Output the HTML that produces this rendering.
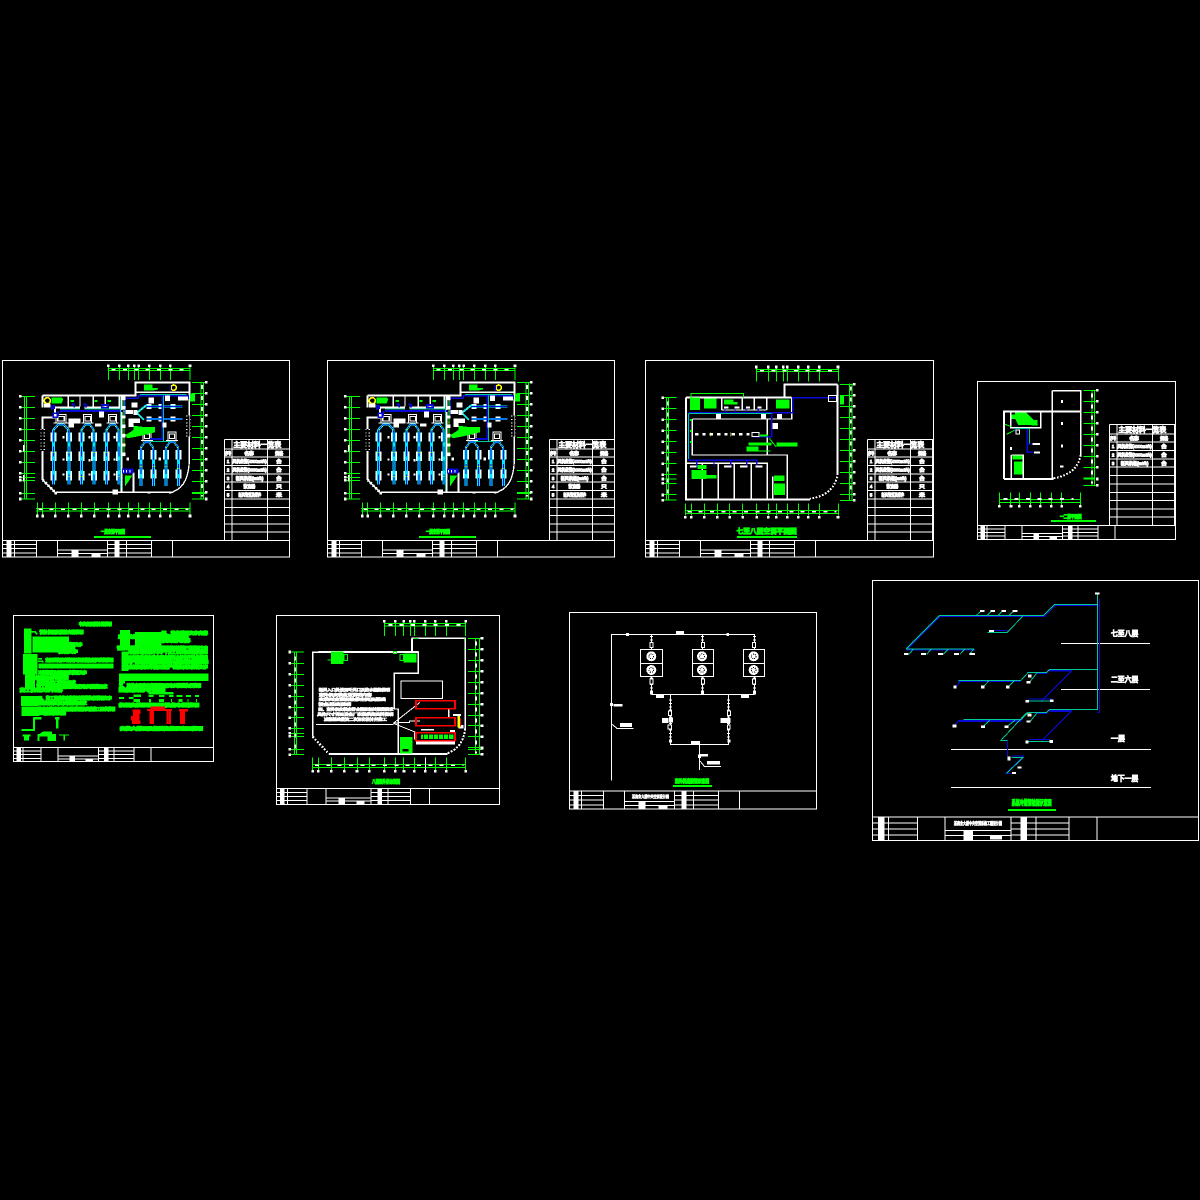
<!DOCTYPE html>
<html><head><meta charset="utf-8"><style>
html,body{margin:0;padding:0;background:#000}
svg{display:block;shape-rendering:crispEdges}
text{font-family:"Liberation Sans","Noto Sans CJK SC",sans-serif}
.f{fill:none;stroke:#fff;stroke-width:3}
.t{fill:none;stroke:#fff;stroke-width:4}
.k{fill:none;stroke:#fff;stroke-width:6}
.g{fill:none;stroke:#0f0;stroke-width:3}
.b{fill:none;stroke:#0a0ad8;stroke-width:3}
.c{fill:none;stroke:#00c896;stroke-width:3}
.y{fill:none;stroke:#ff0;stroke-width:2}
.s{fill:none;stroke:#fff;stroke-width:8;stroke-linecap:square}
.d{fill:none;stroke:#fff;stroke-width:5;stroke-dasharray:12 22}
.r{fill:none;stroke:#f00;stroke-width:5}
.tw{fill:#fff;stroke:#fff;stroke-width:3;font-size:13px}
.tg{fill:#0f0;stroke:#0f0;stroke-width:3.5;font-size:15px}
.tn{fill:#0f0;stroke:#0f0;stroke-width:4;font-size:12px}
.n{fill:none;stroke:#fff;stroke-width:1;vector-effect:non-scaling-stroke}
</style></head><body>
<svg width="1200" height="1200" viewBox="0 0 1200 1200">
<defs>
<g id="tb">
<path class="n" d="M12 0V17M34 0V17M55 0V17M105 0V17M124 0V17M149 0V17M170 0V17M0 4.3H34M0 8.6H34M0 13H34M105 4.3H149M105 8.6H149M105 13H149M55 10H105M55 13.5H105M70 10V17"/>
<path d="M4 0h5v17h-5zM112 0h5v17h-5zM69 10h7v7h-7zM89 13.5h9v3h-9z" fill="#fff"/>
</g>
<g id="tbl">
<path class="f" d="M0 0H195V303M0 0V303M0 28H195M0 53H195M0 78H195M0 103H195M0 128H195M0 153H195M0 178H195M0 204H195M0 228H195M0 253H195M0 278H195M22 0V303M129 0V303"/>
<text class="tw" x="27" y="23" style="font-size:20px;stroke-width:3" textLength="143" lengthAdjust="spacingAndGlyphs">主要材料一览表</text>
<text class="tw" x="2" y="46" textLength="18" lengthAdjust="spacingAndGlyphs">序号</text>
<text class="tw" x="60" y="46" textLength="28" lengthAdjust="spacingAndGlyphs">名称</text>
<text class="tw" x="152" y="46" textLength="24" lengthAdjust="spacingAndGlyphs">规格</text>
</g>
<g id="arch">
<path d="M-18 30V22L-6 6H6L18 22V30" fill="none" stroke="#00e8ff" stroke-width="6"/>
<path d="M-18 30V22L-6 6H6L18 22V30" fill="none" stroke="#0a0ad8" stroke-width="2"/>
<path d="M-18 24L-6 8M18 24L6 8" fill="none" stroke="#ff0" stroke-width="2" stroke-dasharray="4 8"/>
<path d="M-12 4V-24H12V4M-18 2H18" class="f"/>
<path d="M-8 -18h16v14h-16z" fill="#000" stroke="#fff" stroke-width="3"/>
</g>
<g id="plan">
<rect class="f" x="8" y="16" width="860" height="590"/>
<path class="f" d="M8 556H868"/>
<path class="g" d="M325 40H570M325 47H570M325 30V75M358 30V75M385 30V75M403 30V75M416 30V75M448 30V75M481 30V75M511 30V75M570 30V75"/>
<path class="s" d="M325 32h.1M358 32h.1M385 32h.1M403 32h.1M416 32h.1M448 32h.1M481 32h.1M511 32h.1M570 32h.1"/>
<path class="d" d="M335 44H560"/>
<path class="g" d="M603 82V432M610 82V432M576 82H620M576 115H620M576 148H620M576 181H620M576 214H620M576 247H620M576 280H620M576 313H620M576 346H620M576 379H620M576 412H620M576 415H620M576 432H620"/>
<path class="s" d="M619 82h.1M619 115h.1M619 148h.1M619 181h.1M619 214h.1M619 247h.1M619 280h.1M619 313h.1M619 346h.1M619 379h.1M619 412h.1M619 432h.1"/>
<path d="M606 90V425" fill="none" stroke="#fff" stroke-width="5" stroke-dasharray="12 21"/>
<path class="g" d="M73 124V432M80 124V432M60 124H105M60 157H105M60 190H105M60 223H105M60 256H105M60 289H105M60 322H105M60 355H105M60 367H105M60 376H105M60 415H105M60 432H105"/>
<path class="s" d="M61 124h.1M61 157h.1M61 190h.1M61 223h.1M61 256h.1M61 289h.1M61 322h.1M61 355h.1M61 367h.1M61 376h.1M61 415h.1M61 432h.1"/>
<path d="M71 270V290M71 360V380" fill="none" stroke="#fff" stroke-width="5"/>
<path class="g" d="M108 460H570M108 468H570M112 442V478M128 442V478M166 442V478M205 442V478M244 442V478M283 442V478M325 442V478M358 442V478M385 442V478M415 442V478M448 442V478M481 442V478M511 442V478M570 442V478"/>
<path class="s" d="M112 483h.1M128 483h.1M166 483h.1M205 483h.1M244 483h.1M283 483h.1M325 483h.1M358 483h.1M385 483h.1M415 483h.1M448 483h.1M481 483h.1M511 483h.1M570 483h.1"/>
<path class="d" d="M115 463H565"/>
<path class="k" d="M128 375V187H165M128 122H405M128 122V158M165 158H360M165 158V187M407 125V83H568V120M400 352V410M365 120V410"/>
<path class="t" d="M568 120V310Q568 392 520 410M168 412H520M128 375L165 412M205 122V158M240 122V158M280 122V158M316 122V158M358 122V158M407 112H568"/>
<path d="M128 375L165 412" fill="none" stroke="#fff" stroke-width="8" stroke-dasharray="5 6"/>
<path d="M128 222V288M565 182V245" fill="none" stroke="#fff" stroke-width="14" stroke-dasharray="3 7"/>
<path d="M128 222V288M565 182V245" fill="none" stroke="#000" stroke-width="6"/>
<path d="M160 232V388M207 232V388M245 232V388M282 232V388M320 232V388M357 232V388M423 285V393M460 285V393M498 285V393M535 285V393" fill="none" stroke="#fff" stroke-width="18" stroke-dasharray="28 30"/>
<path d="M160 232V388M207 232V388M245 232V388M282 232V388M320 232V388M357 232V388M423 285V393M460 285V393M498 285V393M535 285V393" fill="none" stroke="#00e8ff" stroke-width="9"/>
<path d="M160 232V388M207 232V388M245 232V388M282 232V388M320 232V388M357 232V388M423 285V393M460 285V393M498 285V393M535 285V393" fill="none" stroke="#0a0ad8" stroke-width="3" stroke-dasharray="30 12"/>
<path d="M155 292h10M202 292h10M202 365h10M278 292h10M240 365h10M315 292h10M352 365h10M418 335h10M456 335h10M493 335h10M530 340h10" class="y"/>
<use href="#arch" transform="translate(183 202) scale(1.25 1)"/>
<use href="#arch" transform="translate(263 202)"/>
<use href="#arch" transform="translate(338 202)"/>
<use href="#arch" transform="translate(441 255)"/>
<use href="#arch" transform="translate(516 255)"/>
<path d="M440 155H548M440 192H548" fill="none" stroke="#fff" stroke-width="15" stroke-dasharray="14 22"/>
<path d="M440 155H548M440 192H548" fill="none" stroke="#00e8ff" stroke-width="6"/>
<path d="M440 155H548M440 192H548" class="b"/>
<path d="M405 178L440 150M405 168L432 195" fill="none" stroke="#00e8ff" stroke-width="6"/>
<path d="M405 178L440 150M405 168L432 195" fill="none" stroke="#ff0" stroke-width="2" stroke-dasharray="4 8"/>
<path d="M180 168H368M372 130H415V122H565V132M487 122V252H450M175 168V185M155 150V165M375 130V180" fill="none" stroke="#0a0ad8" stroke-width="5"/>
<path class="c" d="M180 162H362V130M362 162V405M450 260H515M490 122V260M420 118H560"/>
<path d="M372 125V305" fill="none" stroke="#0f0" stroke-width="3"/>
<path d="M372 125V305" fill="none" stroke="#fff" stroke-width="8" stroke-dasharray="10 18"/>
<path d="M372 135V300" fill="none" stroke="#ff0" stroke-width="3" stroke-dasharray="3 30"/>
<path d="M215 150q4-6 8 0v8M250 150q4-6 8 0v8M305 150h20v8h-20zM155 152h8v8h-8zM160 175h12v12h-12z" fill="none" stroke="#0a0ad8" stroke-width="5"/>
<path d="M366 340H400V355H366z" fill="#0a0ad8"/>
<path d="M370 345V352M380 345V352M390 345V352" fill="none" stroke="#fff" stroke-width="3"/>
<path d="M375 362H397L375 395Z" fill="#0f0"/>
<path d="M400 212L432 216H465V232L440 238L410 245L382 250L376 240L390 232L400 225Z" fill="#0f0"/>
<path d="M432 88H458V99H474V103L458 107H432ZM155 127H185L190 133L185 145H155Z" fill="#0f0"/>
<path d="M212 135h10v6h-10zM283 135h9v6h-9zM323 135h10v6h-10zM570 115h15v25h-15z" fill="#0f0"/>
<circle cx="142" cy="137" r="9" fill="none" stroke="#ff0" stroke-width="5"/><rect x="132" y="146" width="20" height="12" fill="#fff"/>
<circle cx="521" cy="98" r="8" fill="none" stroke="#ff0" stroke-width="5"/><rect x="508" y="90" width="5" height="18" fill="#0a0ad8"/>
<path d="M205 190h36v15h-19v13h-17zM285 205h20v9h-20zM297 170h15v18h-15zM445 127h17v18h-17zM495 122h15v16h-15zM488 202h12v16h-12zM385 190h35v14h-20v12h-15zM534 124h30v12h-30zM395 142h18v15h-18zM400 165h12v15h-12zM377 165h22v12h-22zM187 243h7v7h-7zM187 310h7v7h-7zM187 355h7v7h-7zM265 243h7v7h-7zM265 312h7v7h-7zM265 355h7v7h-7zM340 243h7v7h-7zM340 310h7v7h-7zM340 355h7v7h-7zM380 308h7v8h-7zM476 308h7v8h-7zM337 404h17v14h-17zM443 409h8v7h-8zM507 409h8v7h-8zM163 411h8v7h-8z" fill="#fff"/>
<path d="M240 155h14v10h-14z" fill="#000"/>
<text class="tg" x="303" y="536" textLength="72" lengthAdjust="spacingAndGlyphs">一层空调平面图</text>
<rect x="282" y="543" width="171" height="6" fill="#0f0"/>
</g>
<g id="rows">
<text class="tw" x="7" y="71">1</text><text class="tw" x="24" y="71" textLength="103" lengthAdjust="spacingAndGlyphs">风机盘管(4000m3/h)</text><text class="tw" x="155" y="71" textLength="17" lengthAdjust="spacingAndGlyphs">台</text>
<text class="tw" x="7" y="96">2</text><text class="tw" x="24" y="96" textLength="103" lengthAdjust="spacingAndGlyphs">风机盘管(3000m3/h)</text><text class="tw" x="155" y="96" textLength="17" lengthAdjust="spacingAndGlyphs">台</text>
<text class="tw" x="7" y="121">3</text><text class="tw" x="34" y="121" textLength="83" lengthAdjust="spacingAndGlyphs">新风机组(m3/h)</text><text class="tw" x="155" y="121" textLength="17" lengthAdjust="spacingAndGlyphs">台</text>
</g>
<g id="rows2">
<text class="tw" x="7" y="146">4</text><text class="tw" x="57" y="146" textLength="35" lengthAdjust="spacingAndGlyphs">散流器</text><text class="tw" x="155" y="146" textLength="17" lengthAdjust="spacingAndGlyphs">只</text><text class="tw" x="7" y="171">5</text><text class="tw" x="42" y="171" textLength="68" lengthAdjust="spacingAndGlyphs">新风管道及附件</text><text class="tw" x="155" y="171" textLength="17" lengthAdjust="spacingAndGlyphs">米</text>
</g>
</defs>
<rect width="1200" height="1200" fill="#000"/>

<!-- sheets 1, 2 -->
<g transform="translate(0 355) scale(.3333)"><use href="#plan"/></g>
<g transform="translate(325 355) scale(.3333)"><use href="#plan"/></g>
<g transform="translate(224.5 439.5) scale(.3333)"><use href="#tbl"/><use href="#rows"/><use href="#rows2"/></g>
<g transform="translate(549.5 439.5) scale(.3333)"><use href="#tbl"/><use href="#rows"/><use href="#rows2"/></g>
<use href="#tb" transform="translate(2.5 540)"/>
<use href="#tb" transform="translate(327.5 540)"/>

<!-- sheet 3 -->
<g transform="translate(640 355) scale(.3333)">
<rect class="f" x="16" y="16" width="864" height="590"/>
<path class="f" d="M16 556H880"/>
<path class="g" d="M349 43H596M349 50H596M349 32V80M385 32V80M409 32V80M430 32V80M442 32V80M475 32V80M505 32V80M538 32V80M596 32V80"/>
<path class="s" d="M349 36h.1M385 36h.1M409 36h.1M430 36h.1M442 36h.1M475 36h.1M505 36h.1M538 36h.1M594 36h.1"/><path class="d" d="M360 47H590"/>
<path class="g" d="M628 85V435M636 85V435M600 88H645M600 121H645M600 154H645M600 187H645M600 220H645M600 253H645M600 286H645M600 319H645M600 352H645M600 385H645M600 418H645M600 436H645"/>
<path class="s" d="M643 88h.1M643 121h.1M643 154h.1M643 187h.1M643 220h.1M643 253h.1M643 286h.1M643 319h.1M643 352h.1M643 385h.1M643 418h.1M643 436h.1"/>
<path d="M632 95V425" fill="none" stroke="#fff" stroke-width="5" stroke-dasharray="12 21"/>
<path class="g" d="M80 127V435M86 127V435M68 128H110M68 161H110M68 194H110M68 227H110M68 260H110M68 293H110M68 326H110M68 359H110M68 372H110M68 385H110M68 418H110M68 435H110"/>
<path class="s" d="M68 128h.1M68 161h.1M68 194h.1M68 227h.1M68 260h.1M68 293h.1M68 326h.1M68 359h.1M68 372h.1M68 385h.1M68 420h.1M68 436h.1"/>
<path d="M83 140V420" fill="none" stroke="#fff" stroke-width="5" stroke-dasharray="12 21"/>
<path class="g" d="M136 466H596M136 475H596M136 445V482M154 445V482M193 445V482M232 445V482M269 445V482M308 445V482M350 445V482M385 445V482M409 445V482M442 445V482M475 445V482M505 445V482M538 445V482M596 445V482"/>
<path class="s" d="M136 487h.1M154 487h.1M193 487h.1M232 487h.1M269 487h.1M308 487h.1M350 487h.1M385 487h.1M409 487h.1M442 487h.1M475 487h.1M505 487h.1M538 487h.1M594 487h.1"/><path class="d" d="M142 470H590"/>
<path class="k" d="M138 128V433H510M138 128H455M593 88V355M433 128V88H593"/>
<path class="t" d="M157 192H455V128M157 192V300H442V433M382 192V300M140 325H382V433M187 325V433M235 325V433M283 325V433M334 325V433M245 128V165M307 128V165M343 128V165M380 128V165M245 165H380M398 365V433"/>
<path d="M593 355Q585 420 510 431" fill="none" stroke="#fff" stroke-width="6" stroke-dasharray="5 5"/>
<path d="M147 173H458V128H590M147 173V316H350V336M170 316V336M222 316V336M272 316V336M320 316V336M395 173V245H340M255 155V173M285 155V173M318 155V173M355 155V173" fill="none" stroke="#0a0ad8" stroke-width="4"/>
<path class="c" d="M145 176H395M145 176V312"/>
<path d="M192 130h38v30h-38zM150 128h30v37h-30zM252 133h28v8h13v7h-41zM408 133h40v27h-40zM325 262h70v10h-70zM410 262h62v13h-62zM320 275h35v13h-35zM155 345h45v27h-45zM200 360h30v10h-30zM173 330h27v12h-27zM402 385h33v35h-33zM402 362h32v16h-32zM600 122h12v26h-12zM150 192h6v6h-6zM150 225h6v6h-6zM150 258h6v6h-6z" fill="#0f0"/>
<path class="g" d="M153 128V116H310V128M388 250L408 275M320 288H392"/>
<path d="M165 238H335" fill="none" stroke="#fff" stroke-width="8" stroke-dasharray="10 12"/>
<path d="M212 232V244M272 232V244" class="y"/>
<path d="M228 177h15v15h-15zM363 177h15v15h-15zM411 177h15v15h-15zM398 204h16v18h-16zM150 332h20v6h-20zM252 332h22v6h-22zM300 332h22v6h-22zM346 332h22v6h-22zM252 155h14v6h-14zM284 155h14v6h-14zM318 155h12v6h-12zM353 155h12v6h-12z" fill="#fff"/>
<path class="f" d="M336 232h21v13h-21zM565 121H590V140H565Z"/>
<path d="M360 238h24v6h-24z" fill="#0f0"/>
<text class="tg" x="290" y="535" style="font-size:20px;stroke-width:3.5" textLength="180" lengthAdjust="spacingAndGlyphs">七至八层空调平面图</text>
<rect x="291" y="543" width="180" height="6" fill="#0f0"/>
</g>
<g transform="translate(867.5 439.5) scale(.3333)"><use href="#tbl"/><use href="#rows"/><use href="#rows2"/></g>
<use href="#tb" transform="translate(645.5 540)"/>

<!-- sheet 4 -->
<g transform="translate(970 375) scale(.3333)">
<rect class="f" x="22" y="19" width="594" height="474"/>
<path class="f" d="M22 451H616"/>
<path class="k" d="M102 312V110H332M102 312H250"/>
<path class="t" d="M247 47H332V240M247 47V310M122 110V158H212V110M124 240H160V312M124 240V312"/>
<path d="M332 240Q322 298 250 310" fill="none" stroke="#fff" stroke-width="6" stroke-dasharray="5 5"/>
<path d="M135 113H170L205 150H145L135 130Z" fill="#0f0"/>
<path d="M132 260h26v38h-26zM128 242h30v12h-30zM125 118h12v14h-12zM185 135h18v16h-18z" fill="#0f0"/>
<path class="g" d="M105 148L125 155M110 178L135 165"/>
<path d="M172 160V232H190M172 207H188M135 160V170" fill="none" stroke="#0a0ad8" stroke-width="4"/>
<path class="c" d="M135 160H178V205"/>
<path d="M188 204h22v6h-22zM192 229h18v7h-18zM273 75h6v9h-6zM273 141h6v9h-6zM273 208h6v9h-6zM270 272h10v6h-10zM120 216h6v9h-6z" fill="#fff"/>
<path class="f" d="M138 165h10v12h-10z"/>
<path class="g" d="M366 45V332M373 45V332M340 46H385M340 79H385M340 112H385M340 145H385M340 178H385M340 211H385M340 244H385M340 277H385M340 331H385"/>
<rect x="340" y="308" width="35" height="6" fill="#0f0"/>
<path class="s" d="M382 46h.1M382 79h.1M382 112h.1M382 145h.1M382 178h.1M382 211h.1M382 244h.1M382 277h.1M382 312h.1M382 331h.1"/>
<path d="M366 55V325" fill="none" stroke="#fff" stroke-width="5" stroke-dasharray="12 21"/>
<path class="g" d="M88 373H332M88 382H332M88 352V390M121 352V390M148 352V390M181 352V390M211 352V390M244 352V390M274 352V390M331 352V390"/>
<path class="s" d="M88 394h.1M123 394h.1M148 394h.1M181 394h.1M211 394h.1M244 394h.1M275 394h.1M331 394h.1"/><path class="d" d="M100 372H310"/>
<text class="tg" x="270" y="431" textLength="65" lengthAdjust="spacingAndGlyphs">一二层平面图</text>
<rect x="243" y="435" width="135" height="6" fill="#0f0"/>
</g>
<g transform="translate(1109.5 424.5) scale(.3333)"><use href="#tbl"/><use href="#rows"/></g>
<use href="#tb" transform="translate(977.5 525.5) scale(.81)"/>

<!-- sheet 5 -->
<g transform="translate(5 610) scale(.3333)">
<rect class="f" x="25" y="16" width="600" height="439"/>
<path class="f" d="M25 412H625"/>
<text class="tn" x="222" y="46" textLength="98" lengthAdjust="spacingAndGlyphs">中央空调设计总说明</text>
<path d="M57 55h23v75h-23zM54 132h44v62h-44zM60 194h30v45h-30zM48 258h52v30h-52zM50 290h50v28h-50z" fill="#0f0"/>
<path d="M82 80h110v48h-110zM100 160h225v16h-225z" fill="#0f0"/>
<text class="tn" x="80" y="71" textLength="155" lengthAdjust="spacingAndGlyphs">一、设计依据及设计内容说明</text>
<text class="tn" x="190" y="108" textLength="42" lengthAdjust="spacingAndGlyphs">说明文字</text>
<text class="tn" x="190" y="116" textLength="20" lengthAdjust="spacingAndGlyphs">说明</text>
<text class="tn" x="160" y="129" textLength="58" lengthAdjust="spacingAndGlyphs">说明文字</text>
<text class="tn" x="100" y="155" textLength="225" lengthAdjust="spacingAndGlyphs">二、空调系统形式采用风机盘管加新风系统说明</text>
<text class="tn" x="100" y="192" textLength="145" lengthAdjust="spacingAndGlyphs">冷媒管道及保温要求说明文字</text>
<text class="tn" x="90" y="207" textLength="100" lengthAdjust="spacingAndGlyphs">保温材料说明</text>
<text class="tn" x="95" y="222" textLength="117" lengthAdjust="spacingAndGlyphs">风管及风口设计要求</text>
<text class="tn" x="95" y="234" textLength="212" lengthAdjust="spacingAndGlyphs">施工安装应符合国家现行有关规范要求</text>
<text class="tn" x="45" y="245" textLength="127" lengthAdjust="spacingAndGlyphs">施工说明文字内容</text>
<text class="tn" x="100" y="268" textLength="220" lengthAdjust="spacingAndGlyphs">三、施工及验收应按相关规范执行说明文字</text>
<text class="tn" x="100" y="284" textLength="145" lengthAdjust="spacingAndGlyphs">系统调试及试运转要求</text>
<text class="tn" x="100" y="301" textLength="230" lengthAdjust="spacingAndGlyphs">设备安装时应设置减振装置及其他施工要求说明</text>
<text class="tn" x="100" y="314" textLength="82" lengthAdjust="spacingAndGlyphs">其他说明</text>
<path d="M87 322V360H50M85 325h25M150 325h14M157 325V355" fill="none" stroke="#0f0" stroke-width="7"/>
<path d="M52 373h25v6h-5v13h-15v-13h-5zM97 372h10l-3-2 12-6h25v8h12v21h-25v-14h-24v14h-7zM162 373h30v4h-12v15h-4v-15h-14z" fill="#0f0"/>
<path d="M345 60h30v50h-30zM390 66h80v42h-80zM350 125h20v58h-20z" fill="#0f0"/>
<text class="tn" x="470" y="74" textLength="138" lengthAdjust="spacingAndGlyphs">四、设备说明文字内容</text>
<text class="tn" x="340" y="84" textLength="210" lengthAdjust="spacingAndGlyphs">主要设备技术要求及安装说明内容</text>
<text class="tn" x="470" y="96" textLength="85" lengthAdjust="spacingAndGlyphs">说明内容</text>
<text class="tn" x="336" y="119" textLength="272" lengthAdjust="spacingAndGlyphs">管道穿越楼板及墙体时应设置套管并封堵严密说明文字</text>
<text class="tn" x="370" y="131" textLength="238" lengthAdjust="spacingAndGlyphs">冷凝水管坡度不小于千分之三并就近排放说明</text>
<text class="tn" x="370" y="147" textLength="238" lengthAdjust="spacingAndGlyphs">空调室外机安装位置应通风良好便于检修说明</text>
<text class="tn" x="370" y="161" textLength="240" lengthAdjust="spacingAndGlyphs">电气配线及控制系统应符合国家有关规范说明</text>
<text class="tn" x="370" y="176" textLength="238" lengthAdjust="spacingAndGlyphs">系统安装完毕后应进行气密性试验说明文字</text>
<path d="M342 190h268v23h-250v7h-18z" fill="#0f0"/>
<text class="tn" x="342" y="231" textLength="246" lengthAdjust="spacingAndGlyphs">五、其他未尽事宜按国家现行有关规范执行说明</text>
<text class="tn" x="342" y="244" textLength="138" lengthAdjust="spacingAndGlyphs">图例及符号说明</text>
<path d="M430 246h75v8h-75zM385 253h23v8h-23zM430 255h15v6h-15zM462 255h16v6h-16zM492 255h13v6h-13zM515 255h17v6h-17zM543 255h15v6h-15zM570 255h12v6h-12zM342 261h15v6h-15zM372 261h13v6h-13zM385 267h20v9h-20zM432 267h6v9h-6zM462 267h15v9h-15zM498 267h3v9h-3zM520 267h12v9h-12zM548 267h3v9h-3zM573 267h3v9h-3z" fill="#0f0"/>
<text class="tn" x="342" y="290" textLength="240" lengthAdjust="spacingAndGlyphs">机组安装示意图及设备布置说明</text>
<path d="M383 298h24v14h-3v20h3v10h-26v-10h-3v-14h6v-14h-1z" fill="#f00"/>
<path d="M426 297H437V290H480V297H501V303H498V342H484V303H447V342H433V303H426Z" fill="#f00"/>
<path d="M491 305V340" fill="none" stroke="#000" stroke-width="2" stroke-dasharray="3 3"/>
<path d="M522 297h27v7h-9v38h-15v-38h-3z" fill="#f00"/>
<text class="tn" x="345" y="360" textLength="248" lengthAdjust="spacingAndGlyphs">安装大样图及管道连接示意图说明</text>
</g>
<use href="#tb" transform="translate(13.5 747.5) scale(.81 .84)"/>

<!-- sheet 6 -->
<g transform="translate(270 610) scale(.3333)">
<rect class="f" x="20" y="16" width="668" height="567"/>
<path class="f" d="M20 535H688"/>
<path class="g" d="M343 40H587M343 48H587M343 30V78M376 30V78M400 30V78M421 30V78M433 30V78M466 30V78M496 30V78M529 30V78M587 30V78"/>
<path class="s" d="M343 34h.1M376 34h.1M401 34h.1M421 34h.1M433 34h.1M466 34h.1M496 34h.1M529 34h.1M587 34h.1"/><path class="d" d="M355 45H580"/>
<path class="g" d="M617 85V435M628 85V435M594 85H637M594 118H637M594 151H637M594 184H637M594 217H637M594 250H637M594 283H637M594 316H637M594 347H637M594 380H637M594 412H637M594 418H637M594 433H637"/>
<path class="s" d="M636 85h.1M636 118h.1M636 151h.1M636 184h.1M636 217h.1M636 250h.1M636 283h.1M636 316h.1M636 347h.1M636 380h.1M636 414h.1M636 433h.1"/>
<path d="M618 95V430" fill="none" stroke="#fff" stroke-width="5" stroke-dasharray="12 21"/>
<path class="g" d="M73 126V435M80 126V435M58 126H102M58 160H102M58 193H102M58 226H102M58 259H102M58 292H102M58 323H102M58 355H102M58 370H102M58 379H102M58 418H102M58 434H102"/>
<path class="s" d="M59 126h.1M59 160h.1M59 193h.1M59 226h.1M59 259h.1M59 292h.1M59 323h.1M59 355h.1M59 370h.1M59 379h.1M59 418h.1M59 434h.1"/>
<path d="M76 140V430" fill="none" stroke="#fff" stroke-width="5" stroke-dasharray="12 21"/>
<path class="g" d="M127 463H587M127 472H587M127 442V480M145 442V480M184 442V480M223 442V480M262 442V480M299 442V480M343 442V480M376 442V480M400 442V480M433 442V480M496 442V480M529 442V480M587 442V480"/>
<path d="M466 442V480" class="f"/>
<path class="s" d="M128 484h.1M145 484h.1M184 484h.1M223 484h.1M261 484h.1M298 484h.1M343 484h.1M376 484h.1M402 484h.1M433 484h.1M466 484h.1M496 484h.1M529 484h.1M587 484h.1"/><path class="d" d="M135 466H580"/>
<path class="t" d="M128 380V127H445V190H373V297H385V430M177 432H533M586 355V85H425"/>
<path class="k" d="M145 126H445M426 85V127M177 432H533"/>
<path d="M128 380L177 432" fill="none" stroke="#fff" stroke-width="7" stroke-dasharray="5 5"/>
<path d="M533 430Q582 410 585 355" fill="none" stroke="#fff" stroke-width="6" stroke-dasharray="6 4"/>
<path class="f" d="M138 343H370M370 340L450 277M370 340L395 337H418V333H450M370 340L410 356L440 368"/>
<rect class="f" x="393" y="213" width="125" height="53"/>
<path d="M438 392h117v11h-117zM453 357h39v5h-39zM540 360h15v7h-15zM432 368h8v20h-8zM534 295h5v30h-5zM549 312h24v6h-24zM565 345h15v10h-15z" fill="#fff"/>
<path d="M453 373h98v14h-98z" fill="#0f0"/>
<path d="M461 373V387M475 373V387M490 373V387M505 373V387M520 373V387M535 373V387" fill="none" stroke="#000" stroke-width="3"/>
<path class="r" d="M438 272H555V296H438ZM438 323H555V347H438ZM438 368H555V392H438Z"/>
<rect x="563" y="318" width="7" height="34" fill="#ff0"/><rect x="570" y="325" width="3" height="24" fill="#f00"/>
<path d="M390 381h38v49h-38zM183 125h38v37h-38zM400 130h40v28h-40z" fill="#0f0"/>
<path class="g" d="M222 133h11v19h-11zM173 150h12M390 133h10v19h-10zM370 124h10v6h-10zM430 85h15M583 85v8M583 115v5"/>
<path d="M398 417h18v8h-18z" fill="#000"/>
<text class="tw" x="147" y="243" textLength="213" lengthAdjust="spacingAndGlyphs" style="font-size:10px;stroke-width:2.5">新风入口处设百叶风口及防水措施说明</text>
<text class="tw" x="147" y="258" textLength="158" lengthAdjust="spacingAndGlyphs" style="font-size:10px;stroke-width:2.5">室外机安装位置说明内容</text>
<text class="tw" x="147" y="272" textLength="200" lengthAdjust="spacingAndGlyphs" style="font-size:10px;stroke-width:2.5">安装时应预留检修空间及基础</text>
<text class="tw" x="145" y="287" textLength="98" lengthAdjust="spacingAndGlyphs" style="font-size:10px;stroke-width:2.5">设备基础说明</text>
<text class="tw" x="145" y="302" textLength="225" lengthAdjust="spacingAndGlyphs" style="font-size:10px;stroke-width:2.5">四、室外机安装应符合国家相关规范要求</text>
<text class="tw" x="142" y="317" textLength="228" lengthAdjust="spacingAndGlyphs" style="font-size:10px;stroke-width:2.5">具体尺寸详见设备厂家提供的资料说明</text>
<text class="tw" x="162" y="331" textLength="188" lengthAdjust="spacingAndGlyphs" style="font-size:10px;stroke-width:2.5">减振基础做法二次深化设计并施工</text>
<text class="tg" x="306" y="521" textLength="84" lengthAdjust="spacingAndGlyphs">八层室外机布置图</text>
</g>
<use href="#tb" transform="translate(276.5 788.5) scale(.9 .94)"/>

<!-- sheet 7 -->
<g transform="translate(565 605) scale(.3333)">
<rect class="f" x="13" y="22" width="742" height="590"/>
<path class="f" d="M13 558H755"/>
<path class="f" d="M139 527V88H568V132M259 88V132M413 88V132M259 215V268M413 215V268M568 215V268M259 268H568M316 268V418H491V268M403 418V495"/>
<path d="M259 93V130M413 93V130M568 93V130M259 217V262M413 217V262M568 217V262M316 284V405M491 284V405" fill="none" stroke="#fff" stroke-width="9" stroke-dasharray="3 7"/>
<path d="M255 113h9v15h-9zM409 113h10v15h-10zM562 113h10v15h-10zM255 222h9v15h-9zM409 222h10v15h-10zM562 222h10v15h-10zM310 318h10v13h-10zM487 318h9v13h-9zM309 360h11v12h-11zM487 360h8v12h-8z" fill="#000" stroke="#fff" stroke-width="3"/>
<path class="f" d="M226 133H293V215H226ZM226 175H293M382 133H446V215H382ZM382 175H446M535 133H599V215H535ZM535 175H599"/>
<g fill="#fff"><circle cx="259" cy="154" r="15"/><circle cx="259" cy="195" r="15"/><circle cx="411" cy="154" r="15"/><circle cx="411" cy="195" r="15"/><circle cx="566" cy="154" r="15"/><circle cx="566" cy="195" r="15"/></g>
<g fill="none" stroke="#000" stroke-width="3"><circle cx="259" cy="154" r="7" stroke-dasharray="3 3"/><circle cx="259" cy="195" r="7" stroke-dasharray="3 3"/><circle cx="411" cy="154" r="7" stroke-dasharray="3 3"/><circle cx="411" cy="195" r="7" stroke-dasharray="3 3"/><circle cx="566" cy="154" r="7" stroke-dasharray="3 3"/><circle cx="566" cy="195" r="7" stroke-dasharray="3 3"/></g>
<path d="M273 268h24v11h-24zM528 268h24v11h-24zM333 78h24v12h-24zM183 84h9v9h-9zM484 84h8v9h-8zM135 294h9v9h-9zM146 297h26v8h-26zM165 354h36v12h-36zM291 339h20v15h-20zM312 338h12v14h-12zM467 339h30v15h-30zM378 408h27v10h-27zM400 447h29v8h-29zM399 450h9v9h-9zM426 468h39v10h-39zM312 404h9v8h-9zM487 404h9v8h-9zM255 260h9v8h-9zM408 260h9v8h-9zM564 260h9v8h-9z" fill="#fff"/>
<path class="f" d="M141 358L156 370H206M405 468L418 484H468"/>
<text class="tg" x="330" y="534" textLength="102" lengthAdjust="spacingAndGlyphs">室外机连接管示意图</text>
<rect x="324" y="540" width="117" height="6" fill="#0f0"/>
</g>
<use href="#tb" transform="translate(569.5 791) scale(1 1.06)"/>

<!-- sheet 8 -->
<g transform="translate(870 575) scale(.3333)">
<rect class="f" x="8" y="16" width="977" height="780"/>
<path class="f" d="M8 726H985"/>
<path class="f" d="M573 205H840M573 343H840M243 523H843M243 637H843"/>
<path class="b" d="M688 72V412H683M553 91H683M108 225H316M264 320H452M358 167H412M475 372H545M265 438H452L460 430M111 224L210 125H523L555 92"/>
<path d="M537 287H605M500 295H532M538 408H605M500 414H532M265 438H452" fill="none" stroke="#0a0ad8" stroke-width="5"/>
<path class="b" d="M605 288L512 380M605 408L515 497M478 493H540M412 497V545M425 543H460L408 595H425M415 545V552M272 318L258 335M266 438L252 452"/>
<path class="c" d="M683 58V405M108 222L208 122H520L553 89H683M108 222H312M130 222L118 237M184 222L170 238M235 222L220 238M285 222L270 238M312 222L298 238M320 120L333 108M352 120L365 108M385 120L398 108M418 120L432 108M458 124L412 172H352M683 284H538L530 292H475L452 317H265M500 295L480 320M356 318L340 335M432 318L416 335M470 378H548M683 404H538L530 412H475L452 434H280M360 436L338 455M435 436L410 455M470 413L392 497H412M470 500H548M500 415L482 438M425 547H460L410 595"/>
<path d="M102 234h13v6h-13zM153 234h15v6h-15zM204 234h15v6h-15zM252 234h15v6h-15zM298 234h17v6h-17zM330 105h14v6h-14zM361 105h14v6h-14zM394 105h14v6h-14zM428 105h14v6h-14zM357 165h15v6h-15zM675 52h14v7h-14zM250 332h10v8h-10zM333 332h10v8h-10zM408 332h10v8h-10zM474 298h10v10h-10zM470 318h12v8h-12zM467 375h10v8h-10zM540 373h10v8h-10zM248 449h12v8h-12zM333 451h12v8h-12zM404 451h12v8h-12zM473 415h11v9h-11zM469 437h13v6h-13zM467 497h9v8h-9zM538 495h11v9h-11zM413 545h8v11h-8zM442 574h13v7h-13zM426 591h12v6h-12z" fill="#fff"/>
<text class="tw" x="723" y="183" textLength="82" lengthAdjust="spacingAndGlyphs" style="font-size:22px;stroke-width:3">七至八层</text>
<text class="tw" x="723" y="321" textLength="82" lengthAdjust="spacingAndGlyphs" style="font-size:22px;stroke-width:3">二至六层</text>
<text class="tw" x="723" y="498" textLength="42" lengthAdjust="spacingAndGlyphs" style="font-size:22px;stroke-width:3">一层</text>
<text class="tw" x="723" y="618" textLength="82" lengthAdjust="spacingAndGlyphs" style="font-size:22px;stroke-width:3">地下一层</text>
<text class="tg" x="425" y="690" style="font-size:20px;stroke-width:3.5" textLength="120" lengthAdjust="spacingAndGlyphs">系统冷媒管轴测示意图</text>
<rect x="414" y="702" width="144" height="6" fill="#0f0"/>
</g>
<use href="#tb" transform="translate(872.5 817) scale(1.32 1.37)"/>
<text class="tw" x="954" y="825" style="font-size:4.5px;stroke-width:.8" textLength="48" lengthAdjust="spacingAndGlyphs">某商业大楼中央空调系统工程设计图</text>
<text class="tw" x="632" y="798" style="font-size:4px;stroke-width:.7" textLength="37" lengthAdjust="spacingAndGlyphs">某商业大楼中央空调设计图</text>
</svg>
</body></html>
